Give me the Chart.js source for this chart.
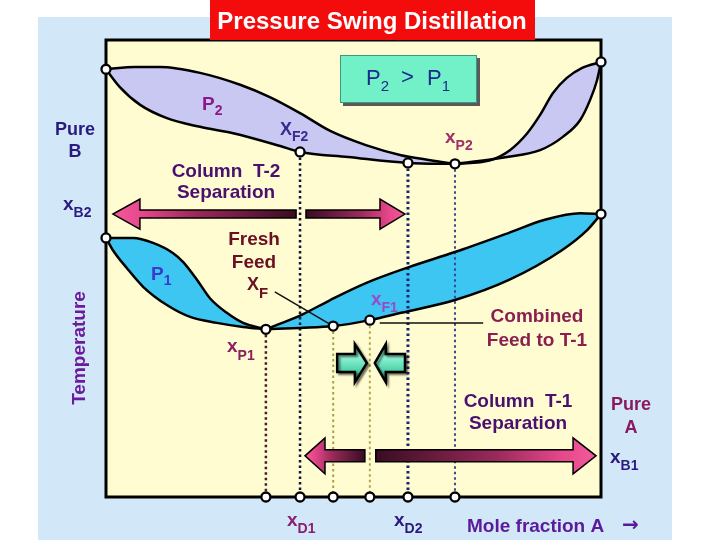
<!DOCTYPE html>
<html><head><meta charset="utf-8">
<script src="https://cdn.jsdelivr.net/npm/chart.js@4.4.1/dist/chart.umd.min.js"></script>
<style>html,body{margin:0;padding:0;background:#fff}canvas{display:block}</style>
</head><body>
<canvas id="c" width="720" height="540"></canvas>
<script>
// ---- data: [mole fraction A, temperature (relative units)] ----
const p2VaporLeft  = [[0,93.6],[0.059,94.1],[0.109,94.1],[0.190,92.8],[0.271,90.2],[0.331,87.5],[0.392,84.0],[0.453,80.1],[0.525,77.0],[0.596,74.8],[0.655,73.7],[0.705,72.9]];
const p2LiquidLeft = [[0,93.6],[0.028,89.7],[0.069,85.8],[0.123,82.9],[0.190,81.0],[0.257,79.6],[0.352,76.8],[0.392,75.5],[0.489,74.4],[0.610,73.1],[0.705,72.9]];
const p2VaporRight = [[0.705,72.9],[0.776,73.7],[0.816,75.9],[0.851,79.6],[0.877,83.6],[0.903,88.4],[0.931,91.7],[0.962,93.9],[1,95.2]];
const p2LiquidRight= [[0.705,72.9],[0.810,74.4],[0.877,75.9],[0.923,78.8],[0.958,82.5],[0.978,86.9],[0.992,91.2],[1,95.2]];
const p1VaporLeft  = [[0,56.7],[0.055,56.7],[0.095,55.6],[0.135,53.4],[0.156,51.4],[0.184,47.5],[0.210,43.5],[0.244,40.3],[0.277,38.1],[0.323,36.7]];
const p1LiquidLeft = [[0,56.7],[0.014,54.0],[0.042,50.1],[0.075,46.0],[0.123,42.0],[0.170,39.4],[0.224,38.1],[0.277,37.2],[0.323,36.7]];
const p1VaporRight = [[0.323,36.7],[0.394,39.8],[0.453,43.1],[0.525,46.8],[0.612,50.3],[0.705,53.6],[0.814,57.8],[0.885,60.6],[0.958,62.1],[1,61.9]];
const p1LiquidRight= [[0.323,36.7],[0.392,37.0],[0.459,37.4],[0.533,38.7],[0.596,40.3],[0.705,43.1],[0.814,47.5],[0.921,54.0],[0.972,58.4],[1,61.9]];
const curveMarkers = [[0,93.6],[1,95.2],[0.392,75.5],[0.610,73.1],[0.705,72.9],[0,56.7],[1,61.9],[0.323,36.7],[0.459,37.4],[0.533,38.7]];
const dropX   = [0.323,0.392,0.459,0.533,0.610,0.705];
const dropTop = [36.7,75.5,37.4,38.7,73.1,72.9];
const feedLine = [[0.341,44.9],[0.459,37.4]];
const combinedLine = [[0.553,38.1],[0.762,38.1]];
const t2Arrow = [0.014,0.384,0.404,0.604]; const t2ArrowT = 61.9;
const t1Arrow = [0.402,0.523,0.545,0.990]; const t1ArrowT = 9.0;
const mixArrows = [0.467,0.527,0.543,0.604]; const mixArrowT = 29.3;

// ---- styles ----
const F = '"Liberation Sans", Arial, sans-serif';
const LAV = '#c9c8f3', SKY = '#3ec6f2';
const dropColors = ['#4a1a2a','#14143e','#a8a048','#b0a848','#1a2670','#3a4890'];
const dropWidths = [2.5,2.5,2,2,3,2];

const pts = a => a.map(p => ({x:p[0], y:p[1]}));
const curve = (d, fill, color) => ({data:pts(d), borderColor:'#000', borderWidth:2.5, pointRadius:0,
  fill:fill, backgroundColor:color||'transparent', cubicInterpolationMode:'monotone', clip:false, order:5});

const datasets = [
  curve(p2VaporLeft,'+1',LAV), curve(p2LiquidLeft,false),
  curve(p2VaporRight,'+1',LAV), curve(p2LiquidRight,false),
  curve(p1VaporLeft,'+1',SKY), curve(p1LiquidLeft,false),
  curve(p1VaporRight,'+1',SKY), curve(p1LiquidRight,false)
];
dropX.forEach((x,i) => datasets.push({data:[{x:x,y:dropTop[i]},{x:x,y:0}], borderColor:dropColors[i],
  borderWidth:dropWidths[i], borderDash:[2.5,3], pointRadius:0, fill:false, clip:false, order:6}));
datasets.push({data:pts(feedLine), borderColor:'#111', borderWidth:1.5, pointRadius:0, fill:false, order:4, clip:false});
datasets.push({data:pts(combinedLine), borderColor:'#111', borderWidth:1.5, pointRadius:0, fill:false, order:4, clip:false});
datasets.push({data:pts(curveMarkers).concat(dropX.map(x=>({x:x,y:0}))), showLine:false, pointRadius:4.5,
  pointBackgroundColor:'#fff', pointBorderColor:'#000', pointBorderWidth:2.3, order:0, clip:false});

function arrowPiece(ctx, xTail, xTip, yc, sh, hh, hl, fillStyle, lw){
  const d = Math.sign(xTip - xTail), xb = xTip - d*hl;
  ctx.beginPath();
  ctx.moveTo(xTail, yc-sh); ctx.lineTo(xb, yc-sh); ctx.lineTo(xb, yc-hh); ctx.lineTo(xTip, yc);
  ctx.lineTo(xb, yc+hh); ctx.lineTo(xb, yc+sh); ctx.lineTo(xTail, yc+sh); ctx.closePath();
  ctx.fillStyle = fillStyle; ctx.fill();
  ctx.lineWidth = lw; ctx.strokeStyle = '#000'; ctx.lineJoin='miter'; ctx.stroke();
}
function pinkGrad(ctx, x0, x1){
  const g = ctx.createLinearGradient(x0,0,x1,0);
  g.addColorStop(0,'#3a0c22'); g.addColorStop(0.55,'#9a2a5a'); g.addColorStop(0.85,'#e8488c'); g.addColorStop(1,'#f25a9c');
  return g;
}
function subText(ctx, main, sub, x, y, size, subSize, dy, color, bold){
  const b = bold===false ? '' : 'bold ';
  ctx.fillStyle = color; ctx.textAlign='left';
  ctx.font = b+size+'px '+F; ctx.fillText(main, x, y);
  const w = ctx.measureText(main).width;
  ctx.font = b+subSize+'px '+F; ctx.fillText(sub, x+w, y+dy);
  return x + w + ctx.measureText(sub).width;
}
function centerText(ctx, lines, cx, ys, size, color){
  ctx.fillStyle=color; ctx.textAlign='center'; ctx.font='bold '+size+'px '+F;
  lines.forEach((t,i)=>ctx.fillText(t, cx, ys[i]));
}

const deco = {
  id:'deco',
  beforeDraw(chart){
    const ctx = chart.ctx, a = chart.chartArea;
    ctx.save();
    ctx.fillStyle='#fff'; ctx.fillRect(0,0,720,540);
    ctx.fillStyle='#d2e8f8'; ctx.fillRect(38,17,634,523);
    ctx.fillStyle='#fffcd2'; ctx.fillRect(a.left,a.top,a.right-a.left,a.bottom-a.top);
    ctx.restore();
  },
  beforeDatasetsDraw(chart){
    const ctx = chart.ctx, a = chart.chartArea;
    ctx.save(); ctx.lineWidth=3; ctx.strokeStyle='#000';
    ctx.strokeRect(a.left,a.top,a.right-a.left,a.bottom-a.top); ctx.restore();
  },
  afterDatasetsDraw(chart){
    const ctx = chart.ctx, xs = chart.scales.x, ys = chart.scales.y;
    const X = v => xs.getPixelForValue(v), Y = v => ys.getPixelForValue(v);
    ctx.save();
    // T-2 arrow
    let yc = Y(t2ArrowT);
    arrowPiece(ctx, X(t2Arrow[1]), X(t2Arrow[0]), yc, 4, 15, 27, pinkGrad(ctx, X(t2Arrow[1]), X(t2Arrow[0])), 1.5);
    arrowPiece(ctx, X(t2Arrow[2]), X(t2Arrow[3]), yc, 4, 15, 25, pinkGrad(ctx, X(t2Arrow[2]), X(t2Arrow[3])), 1.5);
    // T-1 arrow
    yc = Y(t1ArrowT);
    arrowPiece(ctx, X(t1Arrow[1]), X(t1Arrow[0]), yc, 6, 18, 20, pinkGrad(ctx, X(t1Arrow[1]), X(t1Arrow[0])), 1.5);
    arrowPiece(ctx, X(t1Arrow[2]), X(t1Arrow[3]), yc, 6, 18, 23, pinkGrad(ctx, X(t1Arrow[2]), X(t1Arrow[3])), 1.5);
    // green mixing arrows
    yc = Y(mixArrowT);
    const gg = ctx.createLinearGradient(0, yc-18, 0, yc+18);
    gg.addColorStop(0,'#2a9a78'); gg.addColorStop(0.35,'#8ff2d2'); gg.addColorStop(0.65,'#58d8ae'); gg.addColorStop(1,'#1e8060');
    ctx.save(); ctx.shadowColor='rgba(0,0,0,0.45)'; ctx.shadowOffsetX=2; ctx.shadowOffsetY=2; ctx.shadowBlur=2;
    arrowPiece(ctx, X(mixArrows[0]), X(mixArrows[1]), yc, 9, 19, 12, gg, 2.5);
    arrowPiece(ctx, X(mixArrows[3]), X(mixArrows[2]), yc, 9, 19, 11, gg, 2.5);
    ctx.restore();

    // P2 > P1 box
    ctx.save();
    ctx.fillStyle='#5a5a5a'; ctx.fillRect(343,58,137,48);
    ctx.fillStyle='#72f0c8'; ctx.fillRect(340,55,137,48);
    ctx.strokeStyle='#3a9a7a'; ctx.lineWidth=1; ctx.strokeRect(340.5,55.5,136,47);
    let nx = subText(ctx,'P','2',366,85,22,15,6,'#1a2a8a',false);
    ctx.font='22px '+F; ctx.fillText('>', nx+12, 84);
    subText(ctx,'P','1',427,85,22,15,6,'#1a2a8a',false);
    ctx.restore();

    // labels
    subText(ctx,'P','2',202,110,19,14,5,'#8a1a8a');
    subText(ctx,'X','F2',280,135,18,14,6,'#3a2a8e');
    subText(ctx,'x','P2',445,143,19,14,7,'#a03068');
    centerText(ctx,['Pure','B'],75,[135,157],18,'#2a1a80');
    subText(ctx,'x','B2',63,210,19,14,7,'#2a1a80');
    centerText(ctx,['Column  T-2','Separation'],226,[177,198],19,'#4a1070');
    centerText(ctx,['Fresh','Feed'],254,[245,268],19,'#6a1020');
    subText(ctx,'X','F',247,290,18,15,8,'#6a1020');
    subText(ctx,'P','1',151,280,19,14,5,'#3a3ad0');
    subText(ctx,'x','F1',371,305,19,14,7,'#9a4ac8');
    centerText(ctx,['Combined','Feed to T-1'],537,[322,346],19,'#8a2050');
    subText(ctx,'x','P1',227,352,19,14,8,'#8a2060');
    centerText(ctx,['Column  T-1','Separation'],518,[407,429],19,'#4a1070');
    centerText(ctx,['Pure','A'],631,[410,433],18,'#8a1a60');
    subText(ctx,'x','B1',610,463,19,14,7,'#2a1a80');
    subText(ctx,'x','D1',287,526,19,14,7,'#8a2070');
    subText(ctx,'x','D2',394,526,19,14,7,'#2a1a80');
    ctx.fillStyle='#5a1a9a'; ctx.textAlign='left'; ctx.font='bold 19px '+F;
    ctx.fillText('Mole fraction A',467,532);
    ctx.font='bold 20px "DejaVu Sans", sans-serif'; ctx.fillText('\u2192',622,531);
    ctx.save(); ctx.translate(85,348); ctx.rotate(-Math.PI/2);
    ctx.fillStyle='#6a1a9a'; ctx.textAlign='center'; ctx.font='bold 19px '+F; ctx.fillText('Temperature',0,0);
    ctx.restore();
    ctx.restore();
  },
  afterDraw(chart){
    const ctx = chart.ctx;
    ctx.save();
    ctx.fillStyle='#f40c0c'; ctx.fillRect(210,0,325,40);
    ctx.fillStyle='#fff'; ctx.textAlign='center'; ctx.font='bold 24px '+F;
    ctx.fillText('Pressure Swing Distillation',372,29);
    ctx.restore();
  }
};

new Chart(document.getElementById('c'), {
  type:'line',
  data:{datasets:datasets},
  options:{
    responsive:false, animation:false, events:[],
    layout:{padding:{left:106,right:119,top:40,bottom:43}},
    scales:{
      x:{type:'linear',min:0,max:1,display:false},
      y:{type:'linear',min:0,max:100,display:false}
    },
    plugins:{legend:{display:false},tooltip:{enabled:false},filler:{drawTime:'beforeDatasetsDraw'}}
  },
  plugins:[deco]
});
</script>
</body></html>
